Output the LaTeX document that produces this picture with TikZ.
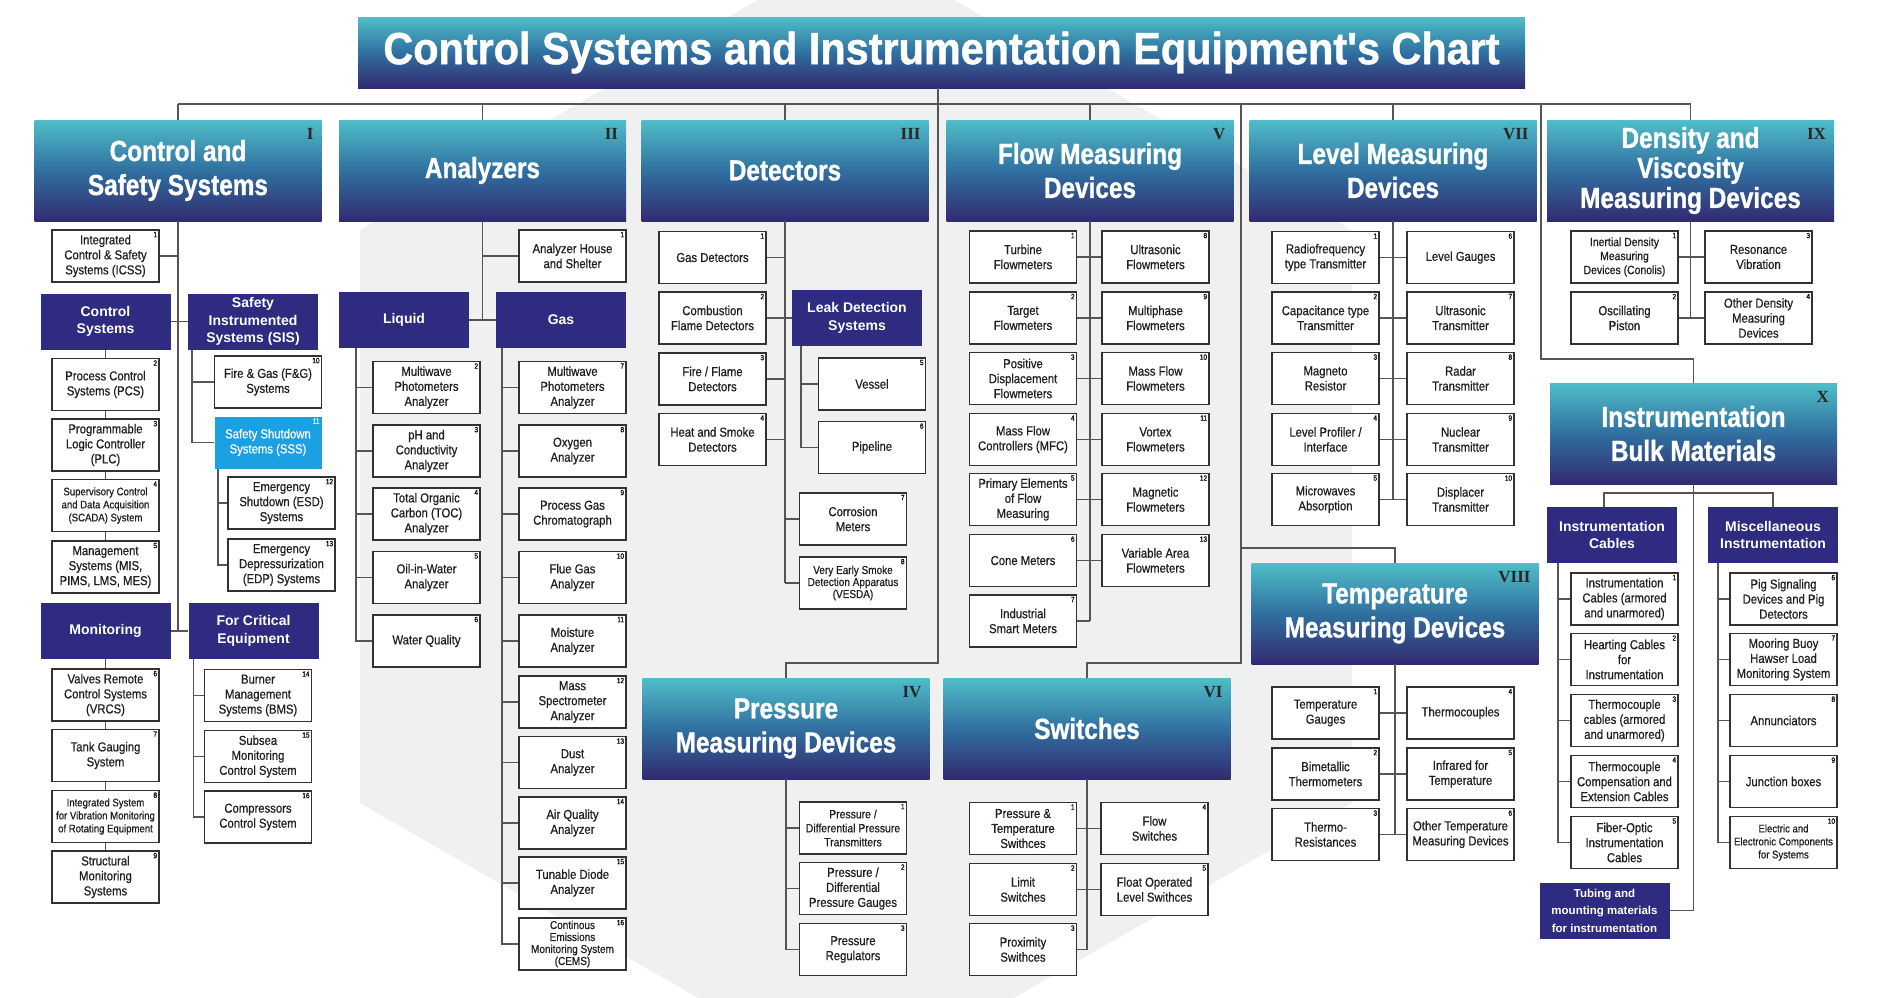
\documentclass[tikz,border=0pt]{standalone}
\usepackage{fontspec}
\setmainfont{Liberation Sans}
\newfontfamily\tfont[FakeStretch=0.92,FakeBold=1]{Liberation Sans Bold}
\newfontfamily\hfont[FakeStretch=0.84,FakeBold=1]{Liberation Sans Bold}
\newfontfamily\bfont[FakeStretch=0.87,FakeBold=0.6]{Liberation Sans}
\newfontfamily\rfont{Liberation Serif}
\usetikzlibrary{calc}
\definecolor{indigo}{RGB}{46,43,128}
\definecolor{hdtop}{RGB}{80,190,200}
\definecolor{hdmid}{RGB}{48,112,160}
\definecolor{hdbot}{RGB}{50,42,112}
\definecolor{skyb}{RGB}{27,160,226}
\definecolor{linec}{RGB}{85,85,85}
\definecolor{boxc}{RGB}{50,50,50}
\tikzset{
  hd/.style={minimum width=287pt, minimum height=101pt, inner sep=0pt, top color=hdtop, bottom color=hdbot, middle color=hdmid, text=white, align=center, font=\hfont\fontsize{29}{34}\selectfont},
  rn/.style={anchor=north east, inner sep=0pt, xshift=-8pt, yshift=-8pt, text=black!85, font=\rfont\bfseries\fontsize{17}{17}\selectfont},
  sub/.style={fill=indigo, text=white, minimum width=130pt, minimum height=56pt, inner sep=1pt, align=center, font=\bfseries\fontsize{14}{17.5}\selectfont},
  box/.style={draw=boxc, line width=1.5pt, fill=white, minimum width=107pt, minimum height=52pt, inner sep=1pt, align=center, text=black!88, font=\bfont\fontsize{13}{15}\selectfont},
  small/.style={font=\bfont\fontsize{11}{13}\selectfont},
  mid/.style={font=\bfont\fontsize{12}{14}\selectfont},
  cems/.style={font=\bfont\fontsize{11.5}{12}\selectfont},
  num/.style={anchor=north east, inner sep=2.5pt, font=\bfont\fontsize{7.5}{7.5}\selectfont},
  ln/.style={draw=linec, line width=1.6pt}
}
\newcommand\bx[6][]{\node[box,#1,label={[num]north east:#5}] (#2) at (#3,#4) {#6};}
\begin{document}
\begin{tikzpicture}[x=1pt,y=-1pt]
\fill[white] (0,0) rectangle (1884,997);
\useasboundingbox (0,0) rectangle (1884,997);
% watermark hexagon
\fill[black!6] (856,-57) -- (1352,230) -- (1352,803) -- (856,1089) -- (360,803) -- (360,230) -- cycle;

% title
\node[minimum width=1167pt, minimum height=71pt, inner sep=0pt, top color=hdtop, bottom color=hdbot, middle color=hdmid, text=white, font=\tfont\fontsize{45}{45}\selectfont] (title) at (941.5,52.5) {Control Systems and Instrumentation Equipment's Chart};

% ===== I
\node[hd, label={[rn]north east:I}] (h1) at (178,170.5) {Control and\\Safety Systems};
\bx{icss}{105.5}{256}{1}{Integrated\\Control \& Safety\\Systems (ICSS)}
\node[sub] (cs) at (105.5,321.5) {Control\\Systems};
\node[sub] (sis) at (253,321.5) {Safety\\Instrumented\\Systems (SIS)};
\bx{pcs}{105.5}{384.5}{2}{Process Control\\Systems (PCS)}
\bx{plc}{105.5}{445}{3}{Programmable\\Logic Controller\\(PLC)}
\bx[small]{scada}{105.5}{505.5}{4}{Supervisory Control\\and Data Acquisition\\(SCADA) System}
\bx{mis}{105.5}{567}{5}{Management\\Systems (MIS,\\PIMS, LMS, MES)}
\bx{fg}{268}{382}{10}{Fire \& Gas (F\&G)\\Systems}
\node[box, draw=none, fill=skyb, text=white, label={[num, text=white]north east:11}] (sss) at (268,442.5) {Safety Shutdown\\Systems (SSS)};
\bx{esd}{281.5}{503}{12}{Emergency\\Shutdown (ESD)\\Systems}
\bx{edp}{281.5}{565}{13}{Emergency\\Depressurization\\(EDP) Systems}
\node[sub] (mon) at (105.5,631) {Monitoring};
\node[sub] (fce) at (253.5,631) {For Critical\\Equipment};
\bx{vrcs}{105.5}{695}{6}{Valves Remote\\Control Systems\\(VRCS)}
\bx{tank}{105.5}{755.5}{7}{Tank Gauging\\System}
\bx[small]{ivm}{105.5}{816.5}{8}{Integrated System\\for Vibration Monitoring\\of Rotating Equipment}
\bx{struct}{105.5}{877}{9}{Structural\\Monitoring\\Systems}
\bx{bms}{258}{695.5}{14}{Burner\\Management\\Systems (BMS)}
\bx{subsea}{258}{756.5}{15}{Subsea\\Monitoring\\Control System}
\bx{comp}{258}{817}{16}{Compressors\\Control System}

% ===== II
\node[hd, label={[rn]north east:II}] (h2) at (482.5,170.5) {Analyzers};
\bx{house}{572.5}{256}{1}{Analyzer House\\and Shelter}
\node[sub] (liq) at (404,320) {Liquid};
\node[sub] (gas) at (561,320) {Gas};
\bx{l2}{426.5}{387.5}{2}{Multiwave\\Photometers\\Analyzer}
\bx{l3}{426.5}{451}{3}{pH and\\Conductivity\\Analyzer}
\bx{l4}{426.5}{514}{4}{Total Organic\\Carbon (TOC)\\Analyzer}
\bx{l5}{426.5}{577.5}{5}{Oil-in-Water\\Analyzer}
\bx{l6}{426.5}{641}{6}{Water Quality}
\bx{g7}{572.5}{387.5}{7}{Multiwave\\Photometers\\Analyzer}
\bx{g8}{572.5}{451}{8}{Oxygen\\Analyzer}
\bx{g9}{572.5}{514}{9}{Process Gas\\Chromatograph}
\bx{g10}{572.5}{577.5}{10}{Flue Gas\\Analyzer}
\bx{g11}{572.5}{641}{11}{Moisture\\Analyzer}
\bx{g12}{572.5}{702}{12}{Mass\\Spectrometer\\Analyzer}
\bx{g13}{572.5}{762.5}{13}{Dust\\Analyzer}
\bx{g14}{572.5}{823}{14}{Air Quality\\Analyzer}
\bx{g15}{572.5}{883}{15}{Tunable Diode\\Analyzer}
\bx[cems]{g16}{572.5}{944}{16}{Continous\\Emissions\\Monitoring System\\(CEMS)}

% ===== III
\node[hd, label={[rn]north east:III}] (h3) at (785,170.5) {Detectors};
\bx{d1}{712.5}{257.5}{1}{Gas Detectors}
\bx{d2}{712.5}{318}{2}{Combustion\\Flame Detectors}
\bx{d3}{712.5}{379}{3}{Fire / Flame\\Detectors}
\bx{d4}{712.5}{439.5}{4}{Heat and Smoke\\Detectors}
\node[sub] (leak) at (857,318) {Leak Detection\\Systems};
\bx{d5}{872}{384}{5}{Vessel}
\bx{d6}{872}{447.5}{6}{Pipeline}
\bx{d7}{853}{519}{7}{Corrosion\\Meters}
\bx[cems]{d8}{853}{583}{8}{Very Early Smoke\\Detection Apparatus\\(VESDA)}

% ===== IV
\node[hd, label={[rn]north east:IV}] (h4) at (786,728.5) {Pressure\\Measuring Devices};
\bx[mid]{p1}{853}{828}{1}{Pressure /\\Differential Pressure\\Transmitters}
\bx{p2}{853}{888.5}{2}{Pressure /\\Differential\\Pressure Gauges}
\bx{p3}{853}{949.5}{3}{Pressure\\Regulators}

% ===== V
\node[hd, label={[rn]north east:V}] (h5) at (1090,170.5) {Flow Measuring\\Devices};
\bx{f1}{1023}{257}{1}{Turbine\\Flowmeters}
\bx{f2}{1023}{318}{2}{Target\\Flowmeters}
\bx{f3}{1023}{378.5}{3}{Positive\\Displacement\\Flowmeters}
\bx{f4}{1023}{439.5}{4}{Mass Flow\\Controllers (MFC)}
\bx{f5}{1023}{499.5}{5}{Primary Elements\\of Flow\\Measuring}
\bx{f6}{1023}{560.5}{6}{Cone Meters}
\bx{f7}{1023}{621}{7}{Industrial\\Smart Meters}
\bx{f8}{1155.5}{257}{8}{Ultrasonic\\Flowmeters}
\bx{f9}{1155.5}{318}{9}{Multiphase\\Flowmeters}
\bx{f10}{1155.5}{378.5}{10}{Mass Flow\\Flowmeters}
\bx{f11}{1155.5}{439.5}{11}{Vortex\\Flowmeters}
\bx{f12}{1155.5}{499.5}{12}{Magnetic\\Flowmeters}
\bx{f13}{1155.5}{560.5}{13}{Variable Area\\Flowmeters}

% ===== VI
\node[hd, label={[rn]north east:VI}] (h6) at (1087,728.5) {Switches};
\bx{s1}{1023}{828.5}{1}{Pressure \&\\Temperature\\Swithces}
\bx{s2}{1023}{889.5}{2}{Limit\\Switches}
\bx{s3}{1023}{949.5}{3}{Proximity\\Swithces}
\bx{s4}{1154.5}{828.5}{4}{Flow\\Switches}
\bx{s5}{1154.5}{889.5}{5}{Float Operated\\Level Swithces}

% ===== VII
\node[hd, label={[rn]north east:VII}] (h7) at (1393,170.5) {Level Measuring\\Devices};
\bx{v1}{1325.5}{257.5}{1}{Radiofrequency\\type Transmitter}
\bx{v2}{1325.5}{318}{2}{Capacitance type\\Transmitter}
\bx{v3}{1325.5}{378.5}{3}{Magneto\\Resistor}
\bx{v4}{1325.5}{439.5}{4}{Level Profiler /\\Interface}
\bx{v5}{1325.5}{499.5}{5}{Microwaves\\Absorption}
\bx{v6}{1460.5}{257.5}{6}{Level Gauges}
\bx{v7}{1460.5}{318}{7}{Ultrasonic\\Transmitter}
\bx{v8}{1460.5}{378.5}{8}{Radar\\Transmitter}
\bx{v9}{1460.5}{439.5}{9}{Nuclear\\Transmitter}
\bx{v10}{1460.5}{499.5}{10}{Displacer\\Transmitter}

% ===== VIII
\node[hd, label={[rn]north east:VIII}] (h8) at (1395,613.5) {Temperature\\Measuring Devices};
\bx{t1}{1325.5}{713}{1}{Temperature\\Gauges}
\bx{t2}{1325.5}{774}{2}{Bimetallic\\Thermometers}
\bx{t3}{1325.5}{834.5}{3}{Thermo-\\Resistances}
\bx{t4}{1460.5}{713}{4}{Thermocouples}
\bx{t5}{1460.5}{774}{5}{Infrared for\\Temperature}
\bx{t6}{1460.5}{834.5}{6}{Other Temperature\\Measuring Devices}

% ===== IX
\node[hd, font=\hfont\fontsize{29}{30}\selectfont, label={[rn]north east:IX}] (h9) at (1690.5,170.5) {Density and\\Viscosity\\Measuring Devices};
\bx[mid]{n1}{1624.5}{257}{1}{Inertial Density\\Measuring\\Devices (Conolis)}
\bx{n2}{1624.5}{318}{2}{Oscillating\\Piston}
\bx{n3}{1758.5}{257}{3}{Resonance\\Vibration}
\bx{n4}{1758.5}{318}{4}{Other Density\\Measuring\\Devices}

% ===== X
\node[hd, label={[rn]north east:X}] (h10) at (1693.5,433.5) {Instrumentation\\Bulk Materials};
\node[sub] (cab) at (1612,535) {Instrumentation\\Cables};
\node[sub] (misc) at (1773,535) {Miscellaneous\\Instrumentation};
\bx{c1}{1624.5}{599}{1}{Instrumentation\\Cables (armored\\and unarmored)}
\bx{c2}{1624.5}{659.5}{2}{Hearting Cables\\for\\Instrumentation}
\bx{c3}{1624.5}{720.5}{3}{Thermocouple\\cables (armored\\and unarmored)}
\bx{c4}{1624.5}{781.5}{4}{Thermocouple\\Compensation and\\Extension Cables}
\bx{c5}{1624.5}{842.5}{5}{Fiber-Optic\\Instrumentation\\Cables}
\bx{m6}{1783.5}{599}{6}{Pig Signaling\\Devices and Pig\\Detectors}
\bx{m7}{1783.5}{659.5}{7}{Mooring Buoy\\Hawser Load\\Monitoring System}
\bx{m8}{1783.5}{720.5}{8}{Annunciators}
\bx{m9}{1783.5}{781.5}{9}{Junction boxes}
\bx[small]{m10}{1783.5}{842.5}{10}{Electric and\\Electronic Components\\for Systems}
\node[sub, font=\bfseries\fontsize{11.5}{17.5}\selectfont] (tub) at (1604.5,910.5) {Tubing and\\mounting materials\\for instrumentation};

% ===== connectors
\coordinate (b1) at (178,104);
\coordinate (b4) at (938,104);
\coordinate (k4) at (938,663);
\coordinate (b6) at (1241,104);
\coordinate (k6) at (1241,663);
\coordinate (k8) at (1241,548);
\coordinate (b10) at (1541,104);
\coordinate (k10) at (1541,359);
\coordinate (kxl) at (1604,493);
\coordinate (kxr) at (1773,493);

\draw[ln] (b1) -- (h9.north |- b1);
\draw[ln] (title.south -| b4) -- (k4) -| (h4.north);
\draw[ln] (b6) -- (k6) -| (h6.north);
\draw[ln] (k8) -| (h8.north);
\draw[ln] (b10) -- (k10) -| (h10.north);
\foreach \h in {h1,h2,h3,h5,h7,h9} \draw[ln] (\h.north |- b1) -- (\h.north);

% I
\draw[ln] (h1.south) -- (h1.south |- mon.east);
\draw[ln] (icss.east) -- (icss.east -| h1.south);
\draw[ln] (cs.east) -- (sis.west);
\draw[ln] (mon.east) -- (fce.west);
\draw[ln] (cs.south) -- (pcs.north) (pcs.south) -- (plc.north) (plc.south) -- (scada.north) (scada.south) -- (mis.north);
\draw[ln] (mon.south) -- (vrcs.north) (vrcs.south) -- (tank.north) (tank.south) -- (ivm.north) (ivm.south) -- (struct.north);
\foreach \n in {fg,sss} \draw[ln] ([xshift=4pt]sis.south west) |- (\n.west);
\foreach \n in {esd,edp} \draw[ln] ([xshift=4pt]sss.south west) |- (\n.west);
\foreach \n in {bms,subsea,comp} \draw[ln] ([xshift=5pt]fce.south west) |- (\n.west);

% II
\draw[ln] (h2.south) -- (h2.south |- liq.east);
\draw[ln] (house.west) -- (house.west -| h2.south);
\draw[ln] (liq.east) -- (gas.west);
\foreach \n in {l2,l3,l4,l5,l6} \draw[ln] ([xshift=17pt]liq.south west) |- (\n.west);
\foreach \n in {g7,g8,g9,g10,g11,g12,g13,g14,g15,g16} \draw[ln] ([xshift=6pt]gas.south west) |- (\n.west);

% III
\draw[ln] (h3.south) -- (h3.south |- d8.west);
\foreach \n in {d1,d3,d4} \draw[ln] (\n.east) -- (\n.east -| h3.south);
\draw[ln] (d2.east) -- (leak.west);
\foreach \n in {d7,d8} \draw[ln] (\n.west) -- (\n.west -| h3.south);
\foreach \n in {d5,d6} \draw[ln] ([xshift=9pt]leak.south west) |- (\n.west);

% IV
\foreach \n in {p1,p2,p3} \draw[ln] (h4.south) |- (\n.west);

% V
\draw[ln] (h5.south) -- (h5.south |- f7.east);
\draw[ln] (f1.east) -- (f8.west) (f2.east) -- (f9.west) (f3.east) -- (f10.west) (f4.east) -- (f11.west) (f5.east) -- (f12.west) (f6.east) -- (f13.west);
\draw[ln] (f7.east) -- (f7.east -| h5.south);

% VI
\draw[ln] (h6.south) -- (h6.south |- s3.east);
\draw[ln] (s1.east) -- (s4.west) (s2.east) -- (s5.west);
\draw[ln] (s3.east) -- (s3.east -| h6.south);

% VII
\draw[ln] (h7.south) -- (h7.south |- v5.east);
\draw[ln] (v1.east) -- (v6.west) (v2.east) -- (v7.west) (v3.east) -- (v8.west) (v4.east) -- (v9.west) (v5.east) -- (v10.west);

% VIII
\draw[ln] (h8.south) -- (h8.south |- t3.east);
\draw[ln] (t1.east) -- (t4.west) (t2.east) -- (t5.west) (t3.east) -- (t6.west);

% IX
\draw[ln] (h9.south) -- (h9.south |- n2.east);
\draw[ln] (n1.east) -- (n3.west) (n2.east) -- (n4.west);

% X
\draw[ln] (h10.south) -- (h10.south |- tub.east) -- (tub.east);
\draw[ln] (cab.north -| kxl) -- (kxl) -- (kxr) -- (misc.north);
\foreach \n in {c1,c2,c3,c4,c5} \draw[ln] ([xshift=11pt]cab.south west) |- (\n.west);
\foreach \n in {m6,m7,m8,m9,m10} \draw[ln] ([xshift=10pt]misc.south west) |- (\n.west);
\end{tikzpicture}
\end{document}
